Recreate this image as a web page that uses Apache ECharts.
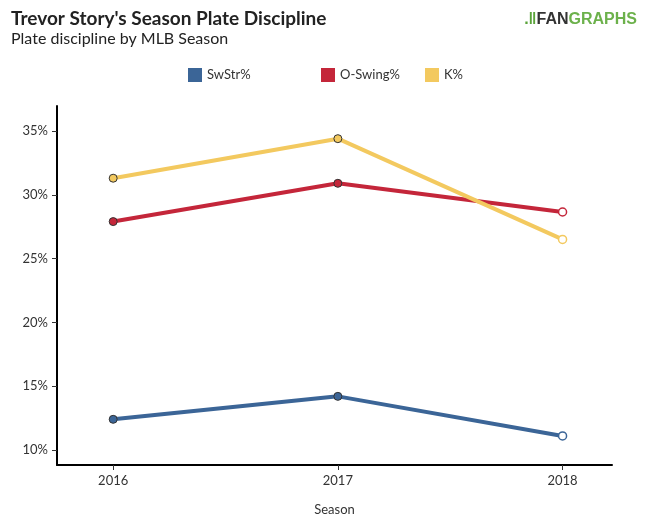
<!DOCTYPE html>
<html><head><meta charset="utf-8">
<script src="https://cdn.jsdelivr.net/npm/echarts@6/dist/echarts.min.js"></script>
<style>html,body{margin:0;padding:0;background:#fff}#c{width:645px;height:522px}</style>
</head><body><div id="c"></div>
<script>
const seasons = [2016, 2017, 2018];
const swStr = [12.4, 14.2, 11.1];
const oSwing = [27.9, 30.9, 28.65];
const kPct = [31.3, 34.4, 26.5];
const yTicks = [10, 15, 20, 25, 30, 35];
const seriesNames = ['SwStr%', 'O-Swing%', 'K%'];
const colors = ['#3b6597', '#c4263a', '#f3c95f'];
const legendLeft = [183, 316, 420];

function mk(name, vals, color) {
  return {
    name: name, type: 'line', color: color,
    lineStyle: { width: 4, color: color },
    symbol: 'circle', symbolSize: 8,
    itemStyle: { color: color },
    data: vals.map((v, i) => ({
      value: [seasons[i], v],
      itemStyle: i === vals.length - 1
        ? { color: '#fff', borderColor: color, borderWidth: 1.5 }
        : { color: color, borderColor: '#333', borderWidth: 1 }
    })),
    z: 2
  };
}

const chart = echarts.init(document.getElementById('c'));
chart.setOption({
  animation: false,
  backgroundColor: '#fff',
  textStyle: { fontFamily: 'Lato' },
  title: {
    text: "Trevor Story's Season Plate Discipline",
    subtext: 'Plate discipline by MLB Season',
    left: 6, top: 4, itemGap: 3,
    textStyle: { fontFamily: 'Lato', fontWeight: 'bold', fontSize: 19, color: '#222' },
    subtextStyle: { fontFamily: 'Lato', fontSize: 16, color: '#222' }
  },
  graphic: [{
    type: 'text', right: 8, top: 12,
    style: {
      text: '{g|.\u2016}{a|FAN}{b|GRAPHS}',
      rich: {
        g: { fontFamily: 'Liberation Sans', fontWeight: 'bold', fontSize: 16, fill: '#5aa33a' },
        a: { fontFamily: 'Liberation Sans', fontWeight: 'bold', fontSize: 16, fill: '#333' },
        b: { fontFamily: 'Liberation Sans', fontWeight: 'bold', fontSize: 16, fill: '#6cb14b' }
      }
    }
  }],
  legend: seriesNames.map((n, i) => ({
    data: [n], left: legendLeft[i], top: 63, itemWidth: 14, itemHeight: 14,
    icon: 'rect', itemGap: 0,
    textStyle: { fontFamily: 'Lato', fontSize: 13, color: '#333' }
  })),
  grid: { left: 57, right: 33, top: 106, bottom: 57 },
  xAxis: {
    type: 'value', min: 2015.75, max: 2018.22,
    name: 'Season', nameLocation: 'middle', nameGap: 38,
    nameTextStyle: { fontFamily: 'Lato', fontSize: 13, color: '#333' },
    axisLine: { show: true, lineStyle: { color: '#000', width: 2 } },
    axisTick: { show: true, customValues: seasons, length: 5, lineStyle: { color: '#333' } },
    axisLabel: { customValues: seasons, formatter: v => String(v), fontFamily: 'Lato', fontSize: 13, color: '#333', margin: 9 },
    splitLine: { show: false }
  },
  yAxis: {
    type: 'value', min: 8.82, max: 36.96,
    axisLine: { show: true, lineStyle: { color: '#000', width: 2 } },
    axisTick: { show: true, customValues: yTicks, length: 5, lineStyle: { color: '#333' } },
    axisLabel: { customValues: yTicks, formatter: v => v + '%', fontFamily: 'Lato', fontSize: 13, color: '#333', margin: 9 },
    splitLine: { show: false }
  },
  series: [mk(seriesNames[0], swStr, colors[0]), mk(seriesNames[1], oSwing, colors[1]), mk(seriesNames[2], kPct, colors[2])]
});
</script></body></html>
